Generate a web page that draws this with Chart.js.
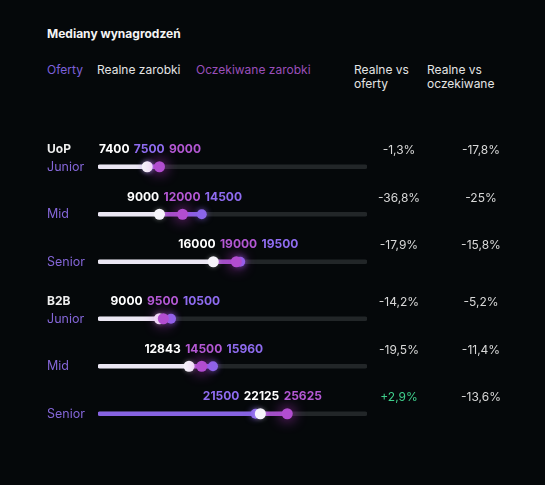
<!DOCTYPE html>
<html>
<head>
<meta charset="UTF-8">
<script src="https://cdn.jsdelivr.net/npm/chart.js"></script>
<style>
    body { margin: 0; background: #05080a; width: 545px; height: 485px; overflow: hidden; position: relative; font-family: Inter, "Noto Sans", sans-serif; }
    .txt { position: absolute; font-size: 12px; line-height: 14px; color: #e4e4e4; white-space: nowrap; }
    .title { font-weight: 700; font-size: 12px; line-height: 16px; color: #f4f4f4; }
    .wrap { position: absolute; left: 0; width: 545px; height: 180px; }
</style>
</head>
<body>
<div class="txt title" style="left:47px;top:26px">Mediany wynagrodzeń</div>
<div class="txt" style="left:47px;top:63px;color:#7d60da">Oferty</div>
<div class="txt" style="left:97px;top:63px">Realne zarobki</div>
<div class="txt" style="left:196px;top:63px;color:#9a4fba">Oczekiwane zarobki</div>
<div class="txt" style="left:354px;top:63px">Realne vs<br>oferty</div>
<div class="txt" style="left:427px;top:63px">Realne vs<br>oczekiwane</div>

<div class="wrap" style="top:113px"><canvas id="uopChart"></canvas></div>
<div class="wrap" style="top:265px"><canvas id="b2bChart"></canvas></div>

<script>
    const levels = ['Junior', 'Mid', 'Senior'];

    const uopOffer = [7500, 14500, 19500];
    const uopReal = [7400, 9000, 16000];
    const uopExpected = [9000, 12000, 19000];
    const uopVsOffer = ['-1,3%', '-36,8%', '-17,9%'];
    const uopVsExpected = ['-17,8%', '-25%', '-15,8%'];

    const b2bOffer = [10500, 15960, 21500];
    const b2bReal = [9000, 12843, 22125];
    const b2bExpected = [9500, 14500, 25625];
    const b2bVsOffer = ['-14,2%', '-19,5%', '+2,9%'];
    const b2bVsExpected = ['-5,2%', '-11,4%', '-13,6%'];

    const axisMin = 1000, axisMax = 36000;

    const offerColor = '#8b66ea';
    const realColor = '#f6f4fa';
    const expectedColor = '#b24dd0';

    // each coloured piece of the line starts at the next lower value in the row
    function segments(own, others) {
        return own.map((v, i) => {
            let start = axisMin;
            others.forEach(o => { if (o[i] < v && o[i] > start) start = o[i]; });
            return [start, v];
        });
    }

    const glow = {
        id: 'glow',
        beforeDatasetDraw(chart, args) {
            const ds = chart.data.datasets[args.index];
            if (!ds.glow) return;
            chart.ctx.save();
            chart.ctx.shadowColor = ds.glow;
            chart.ctx.shadowBlur = ds.glowBlur || 8;
        },
        afterDatasetDraw(chart, args) {
            if (chart.data.datasets[args.index].glow) chart.ctx.restore();
        }
    };

    const rowText = {
        id: 'rowText',
        afterDatasetsDraw(chart, args, opts) {
            const ctx = chart.ctx, x = chart.scales.x, y = chart.scales.y;
            ctx.save();
            ctx.textBaseline = 'middle';
            ctx.textAlign = 'left';
            ctx.font = '700 12px Inter';
            ctx.fillStyle = '#eeeeee';
            ctx.fillText(opts.group, 47, y.getPixelForValue(0) - 17);
            levels.forEach((lvl, i) => {
                const py = y.getPixelForValue(i) - 17;
                const vals = [
                    [opts.real[i], '#ffffff'],
                    [opts.offer[i], '#8f6cf0'],
                    [opts.expected[i], '#b458d4']
                ].sort((a, b) => a[0] - b[0]);
                ctx.font = '700 12px Inter';
                ctx.textAlign = 'left';
                const gap = ctx.measureText(' ').width + 1.5;
                const widths = vals.map(v => ctx.measureText(String(v[0])).width);
                const total = widths[0] + widths[1] + widths[2] + 2 * gap;
                let cx = x.getPixelForValue(vals[1][0]) - total / 2 + 2;
                vals.forEach((v, k) => {
                    ctx.fillStyle = v[1];
                    ctx.fillText(String(v[0]), cx, py);
                    cx += widths[k] + gap;
                });

                ctx.font = '400 12px Inter';
                ctx.textAlign = 'center';
                ctx.fillStyle = opts.vsOffer[i].startsWith('+') ? '#3fcf8c' : '#d8d8d8';
                ctx.fillText(opts.vsOffer[i], 399, py + 1);
                ctx.fillStyle = '#d8d8d8';
                ctx.fillText(opts.vsExpected[i], 481, py + 1);
            });
            ctx.restore();
        }
    };

    function makeChart(canvasId, group, offer, real, expected, vsOffer, vsExpected) {
        const barBase = { type: 'bar', barThickness: 4, borderRadius: 2, borderSkipped: false, grouped: false, order: 5 };
        const dotBase = { type: 'line', showLine: false, pointBorderWidth: 0, indexAxis: 'y' };
        return new Chart(document.getElementById(canvasId), {
            type: 'bar',
            data: {
                labels: levels,
                datasets: [
                    Object.assign({}, barBase, { label: 'track', data: levels.map(() => [axisMin, axisMax]), backgroundColor: '#222628', order: 10 }),
                    Object.assign({}, barBase, { label: 'Realne', data: segments(real, [offer, expected]), backgroundColor: '#ebe7f3' }),
                    Object.assign({}, barBase, { label: 'Oferty', data: segments(offer, [real, expected]), backgroundColor: '#8763e2' }),
                    Object.assign({}, barBase, { label: 'Oczekiwane', data: segments(expected, [real, offer]), backgroundColor: '#a150c6' }),
                    Object.assign({}, dotBase, { label: 'Oferty', data: offer, pointRadius: 5, pointHoverRadius: 5, pointBackgroundColor: offerColor, order: 3, glow: 'rgba(140,100,240,0.7)', glowBlur: 6 }),
                    Object.assign({}, dotBase, { label: 'Realne', data: real, pointRadius: 5.5, pointHoverRadius: 5.5, pointBackgroundColor: realColor, order: 2, glow: 'rgba(255,255,255,0.35)', glowBlur: 5 }),
                    Object.assign({}, dotBase, { label: 'Oczekiwane', data: expected, pointRadius: 5.5, pointHoverRadius: 5.5, pointBackgroundColor: expectedColor, order: 1, glow: 'rgba(205,60,225,0.95)', glowBlur: 14 })
                ]
            },
            options: {
                indexAxis: 'y',
                responsive: true,
                maintainAspectRatio: false,
                animation: false,
                layout: { padding: { left: 47, right: 178, top: 30, bottom: 6 } },
                scales: {
                    x: { type: 'linear', min: axisMin, max: axisMax, display: false },
                    y: {
                        grid: { display: false },
                        border: { display: false },
                        ticks: { color: '#8466d8', font: { family: 'Inter', size: 12.5 }, crossAlign: 'far', padding: 0 },
                        afterFit(scale) { scale.width = 51; }
                    }
                },
                plugins: {
                    legend: { display: false },
                    tooltip: { enabled: false },
                    rowText: { group, offer, real, expected, vsOffer, vsExpected }
                }
            },
            plugins: [glow, rowText]
        });
    }

    makeChart('uopChart', 'UoP', uopOffer, uopReal, uopExpected, uopVsOffer, uopVsExpected);
    makeChart('b2bChart', 'B2B', b2bOffer, b2bReal, b2bExpected, b2bVsOffer, b2bVsExpected);
</script>
</body>
</html>
